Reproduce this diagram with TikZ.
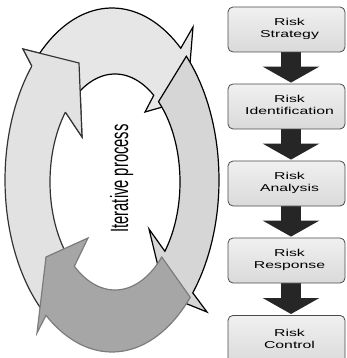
\documentclass[tikz,border=0pt]{standalone}
\usepackage{fontspec}
\setmainfont{Liberation Sans}
\usepackage{graphicx}
\usetikzlibrary{arrows.meta}
\definecolor{topfill}{HTML}{E6E6E6}
\definecolor{rightfill}{HTML}{D6D6D6}
\definecolor{leftfill}{HTML}{E2E2E2}
\definecolor{botfill}{HTML}{A6A6A6}
\definecolor{botline}{HTML}{7C7C7C}
\definecolor{leftline}{HTML}{333333}
\definecolor{boxtop}{HTML}{F0F0F0}
\definecolor{boxbot}{HTML}{DADADA}
\definecolor{boxline}{HTML}{4A4A4A}
\definecolor{flowcol}{HTML}{262626}
\pgfdeclarelayer{background}
\pgfsetlayers{background,main}
\newcommand{\risktxt}[2]{\hspace*{6pt}\scalebox{1.58}[1]{\begin{tabular}{@{}c@{}}#1\\#2\end{tabular}}}
\tikzset{
  ringarrow/.style={line width=1.2pt, line join=miter},
  riskbox/.style={draw=boxline, line width=0.8pt, rounded corners=5pt,
    top color=boxtop, bottom color=boxbot, minimum width=117pt,
    minimum height=45pt, inner sep=0pt, font=\fontsize{10}{12}\selectfont},
  flowarrow/.style={draw=flowcol, line width=20pt,
    -{Triangle[width=56pt,length=16pt]}, shorten >=1pt}
}
\begin{document}
\begin{tikzpicture}[x=1pt,y=-1pt]
\useasboundingbox (0,0) rectangle (346,358);
% left arrow (bottom-left up to top-left)
\filldraw[ringarrow, fill=leftfill, draw=leftline]
  plot[domain=130:221.5,samples=40,variable=\t] ({112+107*cos(\t)},{180+172*sin(\t)})
  -- (23,49) -- (79,63) -- (82,137)
  -- plot[domain=220.3:138,samples=40,variable=\t] ({115+65*cos(\t)},{182+108*sin(\t)})
  -- cycle;
% top arrow
\filldraw[ringarrow, fill=topfill, draw=black]
  plot[domain=225:310,samples=40,variable=\t] ({112+107*cos(\t)},{180+172*sin(\t)})
  -- (193,27) -- (187,100) -- (145,112)
  -- plot[domain=306.6:232,samples=40,variable=\t] ({115+65*cos(\t)},{182+108*sin(\t)})
  -- cycle;
% right arrow
\filldraw[ringarrow, fill=rightfill, draw=black]
  plot[domain=314:401,samples=40,variable=\t] ({112+107*cos(\t)},{180+172*sin(\t)})
  -- (207,312) -- (165,295) -- (149,229)
  -- plot[domain=399.9:312,samples=40,variable=\t] ({115+65*cos(\t)},{182+108*sin(\t)})
  -- cycle;
% bottom arrow
\filldraw[ringarrow, fill=botfill, draw=botline]
  plot[domain=43:128.1,samples=40,variable=\t] ({112+107*cos(\t)},{180+172*sin(\t)})
  -- (37,333) -- (46,257) -- (88,238)
  -- plot[domain=128.7:44,samples=40,variable=\t] ({115+65*cos(\t)},{182+108*sin(\t)})
  -- cycle;
% left arrow head again, on top of the tail of the top arrow
\fill[leftfill] ({112+107*cos(221.5)},{180+172*sin(221.5)}) -- (23,49) -- (79,63) -- (82,137)
  -- ({115+65*cos(220.3)},{182+108*sin(220.3)}) -- cycle;
\draw[ringarrow, draw=leftline] ({112+107*cos(221.5)},{180+172*sin(221.5)}) -- (23,49) -- (79,63) -- (82,137)
  -- ({115+65*cos(220.3)},{182+108*sin(220.3)});
% text in the ring
\node[rotate=90, anchor=base, inner sep=0pt] (iter) at (128,178.5)
  {\scalebox{0.59}[1]{\fontsize{25}{30}\selectfont Iterative process}};
% boxes
\node[riskbox] (b1) at (286.5,29.5) {\risktxt{Risk}{Strategy}};
\node[riskbox] (b2) at (286.5,106.5) {\risktxt{Risk}{Identification}};
\node[riskbox] (b3) at (286.5,183.5) {\risktxt{Risk}{Analysis}};
\node[riskbox] (b4) at (286.5,260.5) {\risktxt{Risk}{Response}};
\node[riskbox, minimum height=49pt, anchor=north] (b5) at (286.5,315) {\raisebox{-2pt}{\risktxt{Risk}{Control}}};
\begin{pgfonlayer}{background}
\draw[flowarrow] ([xshift=4.5pt]b1.south) -- ([xshift=4.5pt]b2.north);
\draw[flowarrow] ([xshift=4.5pt]b2.south) -- ([xshift=4.5pt]b3.north);
\draw[flowarrow] ([xshift=4.5pt]b3.south) -- ([xshift=4.5pt]b4.north);
\draw[flowarrow] ([xshift=4.5pt]b4.south) -- ([xshift=4.5pt]b5.north);
\end{pgfonlayer}
\end{tikzpicture}
\end{document}
